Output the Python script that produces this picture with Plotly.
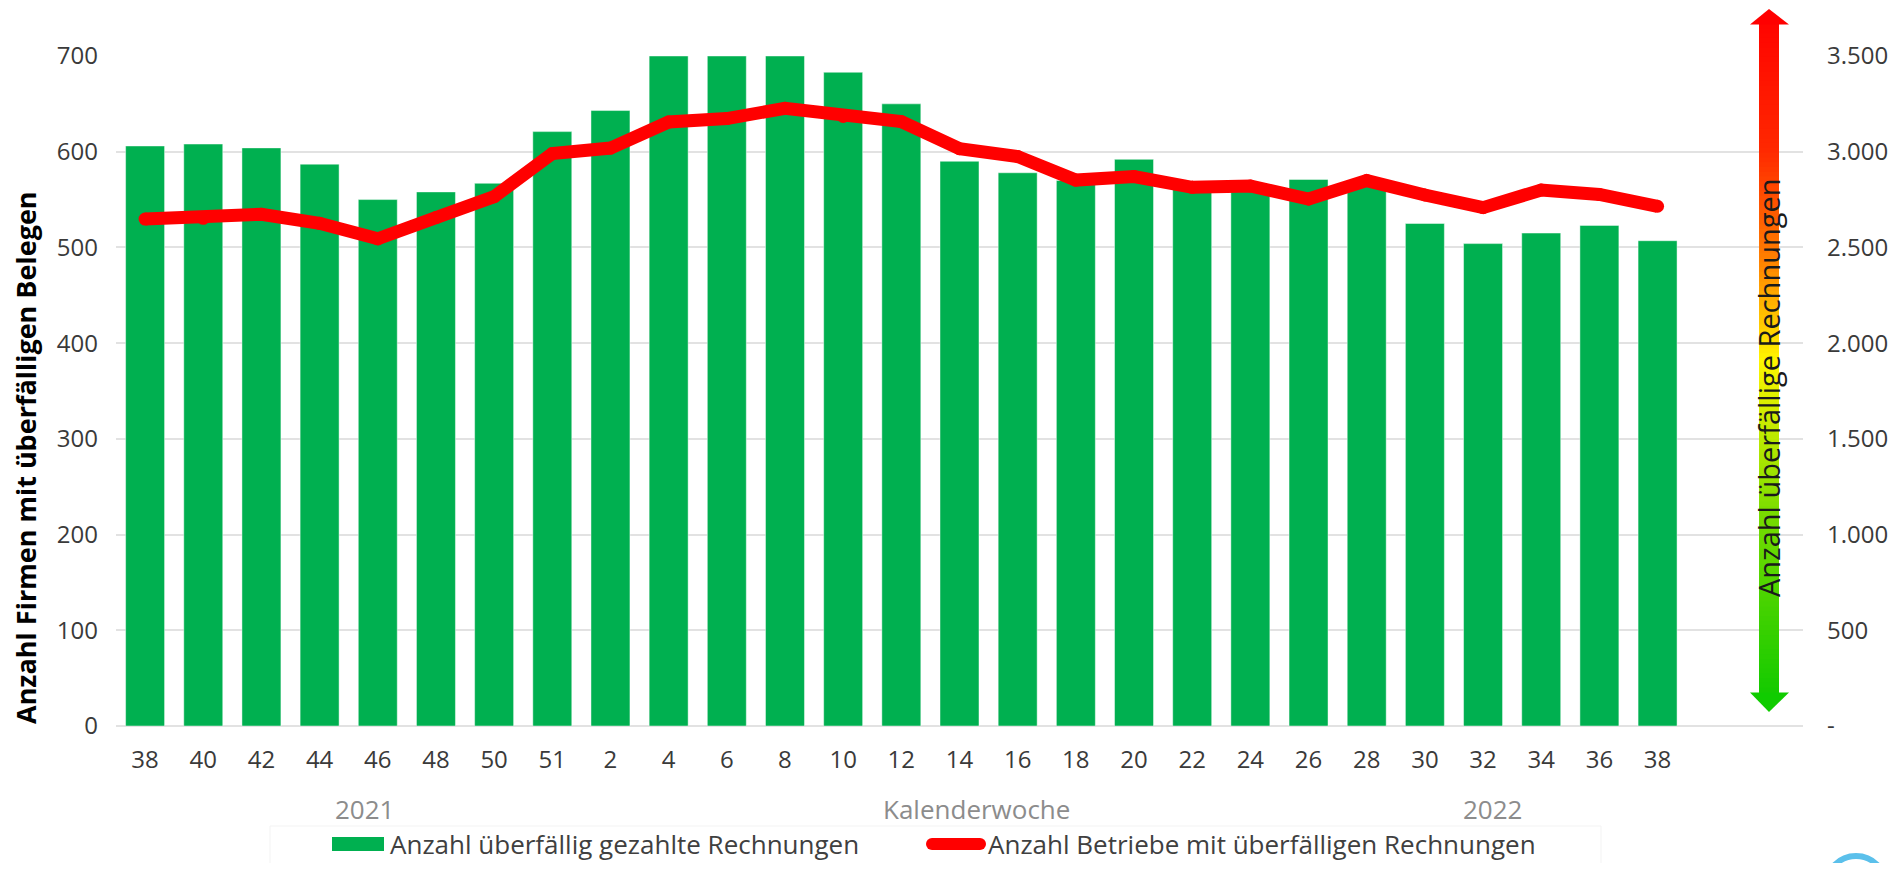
import plotly.graph_objects as go

# Kalenderwochen 38/2021 bis 38/2022
weeks = ["38", "40", "42", "44", "46", "48", "50", "51", "2", "4", "6", "8", "10", "12",
         "14", "16", "18", "20", "22", "24", "26", "28", "30", "32", "34", "36", "38"]
paid_late = [606, 608, 604, 587, 550, 558, 567, 621, 643, 700, 700, 700, 683, 650,
             590, 578, 570, 592, 562, 565, 571, 568, 525, 504, 515, 523, 507]
firms_overdue = [2648, 2652, 2673, 2626, 2545, 2656, 2765, 2990, 3019, 3155, 3173, 3227, 3184, 3157,
                 3016, 2975, 2852, 2870, 2814, 2821, 2753, 2849, 2774, 2708, 2800, 2777, 2715]

left_ticks = [0, 100, 200, 300, 400, 500, 600, 700]
right_ticks = [0, 500, 1000, 1500, 2000, 2500, 3000, 3500]
right_ticktext = ["-", "500", "1.000", "1.500", "2.000", "2.500", "3.000", "3.500"]

bar_name = "Anzahl überfällig gezahlte Rechnungen"
line_name = "Anzahl Betriebe mit überfälligen Rechnungen"

GREEN = "#00b050"
RED = "#ff0000"
FONT = "Open Sans"

# the page body adds an 8px margin, so the figure is 16px smaller than the window
OFF = 8
W, H = 1901 - 2 * OFF, 871 - 2 * OFF
# plot area in window pixels
X0, X1, Y0, Y1 = 116, 1803, 56, 726
L, R, T, B = X0 - OFF, W - (X1 - OFF), Y0 - OFF, H - (Y1 - OFF)
PW, PH = X1 - X0, Y1 - Y0


def px(x):
    return (x - X0) / PW


def py(y):
    return (Y1 - y) / PH


x_pos = list(range(len(weeks)))

fig = go.Figure()
fig.add_trace(go.Bar(
    x=x_pos, y=paid_late, name=bar_name,
    marker=dict(color=GREEN, line=dict(color="rgba(255,255,255,0.45)", width=1)),
    showlegend=False,
))
fig.add_trace(go.Scatter(
    x=x_pos, y=firms_overdue, name=line_name, yaxis="y2",
    mode="lines+markers",
    line=dict(color=RED, width=13),
    marker=dict(color=RED, size=13),
    showlegend=False,
))

shapes = []

# gradient arrow on the right
stops = [(0.0, (255, 0, 0)), (0.2, (255, 40, 0)), (0.36, (255, 130, 0)),
         (0.5, (255, 245, 0)), (0.72, (120, 220, 0)), (1.0, (10, 200, 0))]


def grad(f):
    for (f0, c0), (f1, c1) in zip(stops, stops[1:]):
        if f0 <= f <= f1:
            t = (f - f0) / (f1 - f0)
            return "rgb(%d,%d,%d)" % tuple(round(a + (b - a) * t) for a, b in zip(c0, c1))
    return "rgb(%d,%d,%d)" % stops[-1][1]


ax0, ax1 = 1759, 1779
top_tip, top_base, bot_base, bot_tip = 9, 24, 693, 712
n = 140
step = (bot_base - top_base) / n
for i in range(n):
    y0 = top_base + i * step
    f = (y0 + step / 2 - top_tip) / (bot_tip - top_tip)
    shapes.append(dict(type="rect", xref="paper", yref="paper",
                       x0=px(ax0), x1=px(ax1), y0=py(y0 - 0.5), y1=py(y0 + step + 0.5),
                       fillcolor=grad(f), line=dict(width=0), layer="above"))
shapes.append(dict(type="path", xref="paper", yref="paper",
                   path="M %f %f L %f %f L %f %f Z" % (px(1750), py(top_base + 0.5), px(1769), py(top_tip),
                                                      px(1789), py(top_base + 0.5)),
                   fillcolor="rgb(255,0,0)", line=dict(width=0), layer="above"))
shapes.append(dict(type="path", xref="paper", yref="paper",
                   path="M %f %f L %f %f L %f %f Z" % (px(1750), py(bot_base - 0.5), px(1769), py(bot_tip),
                                                      px(1789), py(bot_base - 0.5)),
                   fillcolor="rgb(16,204,0)", line=dict(width=0), layer="above"))

# legend (drawn by hand), lifted a little so it is not cut by the page edge
LEG_Y = 844
shapes.append(dict(type="rect", xref="paper", yref="paper",
                   x0=px(270), x1=px(1601), y0=py(826), y1=py(890),
                   line=dict(color="#f3f3f3", width=1), fillcolor="rgba(0,0,0,0)"))
shapes.append(dict(type="rect", xref="paper", yref="paper",
                   x0=px(332), x1=px(384), y0=py(LEG_Y - 7), y1=py(LEG_Y + 7),
                   fillcolor=GREEN, line=dict(width=0)))
shapes.append(dict(type="rect", xref="paper", yref="paper",
                   x0=px(932), x1=px(980), y0=py(LEG_Y - 6), y1=py(LEG_Y + 6),
                   fillcolor=RED, line=dict(width=0)))
for cx in (932, 980):
    shapes.append(dict(type="circle", xref="paper", yref="paper",
                       x0=px(cx - 6), x1=px(cx + 6), y0=py(LEG_Y - 6), y1=py(LEG_Y + 6),
                       fillcolor=RED, line=dict(width=0)))

# partial logo in the corner
shapes.append(dict(type="circle", xref="paper", yref="paper",
                   x0=px(1826), x1=px(1886), y0=py(856), y1=py(916),
                   line=dict(color="#5bc0eb", width=6), fillcolor="rgba(0,0,0,0)"))


def note(text, x, y, size, color, angle=0, xanchor="center", weight="normal"):
    return dict(text=text, textangle=angle, xref="paper", yref="paper",
                x=px(x), y=py(y), xanchor=xanchor, yanchor="middle", showarrow=False,
                font=dict(family=FONT, size=size, color=color, weight=weight))


annotations = [
    note("Anzahl Firmen mit überfälligen Belegen", 25, 458, 27, "#000000", angle=-90, weight="bold"),
    note("Anzahl überfällige Rechnungen", 1768, 388, 29, "#1a1a1a", angle=-90),
    note("2021", 364, 809, 26, "#8c8c8c"),
    note("Kalenderwoche", 977, 809, 26, "#8c8c8c"),
    note("2022", 1492, 809, 26, "#8c8c8c"),
    note(bar_name, 388, LEG_Y, 26, "#404040", xanchor="left"),
    note(line_name, 986, LEG_Y, 26, "#404040", xanchor="left"),
]

fig.update_layout(
    width=W, height=H,
    margin=dict(l=L, r=R, t=T, b=B, autoexpand=False),
    paper_bgcolor="white", plot_bgcolor="white",
    font=dict(family=FONT, size=24, color="#3a3a3a"),
    bargap=0.33,
    showlegend=False,
    shapes=shapes,
    annotations=annotations,
    xaxis=dict(
        range=[-0.5, 28.5], tickmode="array", tickvals=x_pos, ticktext=weeks,
        showgrid=False, zeroline=False, showline=False, ticks="",
        ticklabelstandoff=17, tickfont=dict(size=24, color="#3a3a3a"),
    ),
    yaxis=dict(
        range=[0, 700], tickmode="array", tickvals=left_ticks,
        showgrid=True, gridcolor="#e2e2e2", gridwidth=2,
        zeroline=True, zerolinecolor="#e2e2e2", zerolinewidth=2,
        showline=False, ticks="", ticklabelstandoff=17,
        tickfont=dict(size=24, color="#3a3a3a"),
    ),
    yaxis2=dict(
        range=[0, 3500], overlaying="y", side="right", tickmode="array",
        tickvals=right_ticks, ticktext=right_ticktext,
        showgrid=False, zeroline=False, showline=False, ticks="",
        ticklabelstandoff=23, tickfont=dict(size=24, color="#3a3a3a"),
    ),
)

fig.write_html("out.html")
